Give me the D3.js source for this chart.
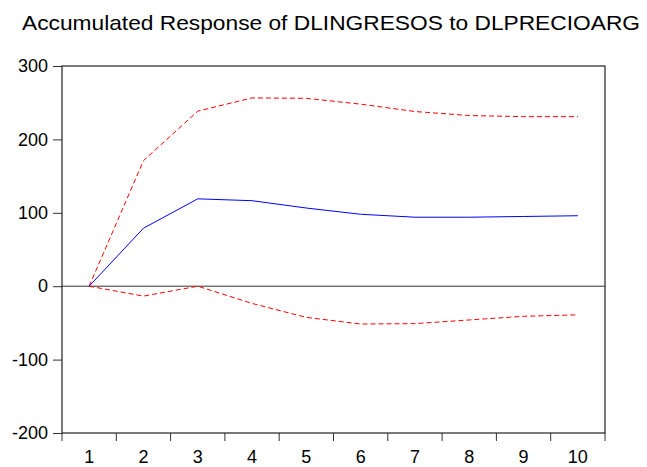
<!DOCTYPE html>
<html>
<head>
<meta charset="utf-8">
<script src="https://cdn.jsdelivr.net/npm/d3@7"></script>
<style>
  body { margin: 0; background: #fff; }
  svg { display: block; font-family: "Liberation Sans", Arial, sans-serif; }
</style>
</head>
<body>
<div id="chart"></div>
<script>
// data
const periods = ["1", "2", "3", "4", "5", "6", "7", "8", "9", "10"];
const response = [0, 79, 119, 116.5, 106.5, 98, 94, 94, 95, 96];
const upperBand = [0, 171, 238.5, 256.5, 256, 248, 238, 232.5, 231, 231];
const lowerBand = [0, -13.5, 0, -23.5, -42.5, -51.5, -51, -46, -41, -39];
const yTicks = [-200, -100, 0, 100, 200, 300];
const title = "Accumulated Response of DLINGRESOS to DLPRECIOARG";

const W = 647, H = 467;
const margin = {top: 66, right: 42, bottom: 34, left: 62},
      width = W - margin.left - margin.right,
      height = H - margin.top - margin.bottom;

const svg = d3.select("#chart")
  .append("svg")
    .attr("width", W)
    .attr("height", H);

// title is a bit wider than plain Arial, so stretch it to the same span
svg.append("text")
    .attr("x", 22)
    .attr("y", 30)
    .attr("font-size", 21)
    .attr("fill", "#000")
    .attr("textLength", 618)
    .attr("lengthAdjust", "spacingAndGlyphs")
    .text(title);

const g = svg.append("g")
    .attr("transform", `translate(${margin.left}, ${margin.top})`);

//scales
const x = d3.scaleBand()
    .domain(periods)
    .range([0, width]);

const y = d3.scaleLinear()
    .domain([-200, 300])
    .range([height, 0]);

const cx = d => x(d) + x.bandwidth() / 2;

// y axis (plain hyphen for negatives, like the original)
const yAxis = g.append("g")
    .call(d3.axisLeft(y).tickValues(yTicks).tickFormat(d => String(d))
      .tickSize(9).tickSizeOuter(0).tickPadding(5));
yAxis.select(".domain").remove();
yAxis.selectAll("line").attr("stroke", "#333");
yAxis.selectAll("text").attr("font-size", 18).attr("fill", "#000")
    .attr("font-family", "Liberation Sans, Arial, sans-serif");

// x axis: ticks on band edges, labels at band centres
const xAxis = g.append("g")
    .attr("transform", `translate(0, ${height})`);
xAxis.selectAll("line")
    .data(periods.concat(["end"]))
  .enter()
  .append("line")
    .attr("x1", (d, i) => i * x.step())
    .attr("x2", (d, i) => i * x.step())
    .attr("y1", 0)
    .attr("y2", 8)
    .attr("stroke", "#333");
xAxis.selectAll("text")
    .data(periods)
  .enter()
  .append("text")
    .attr("x", cx)
    .attr("y", 30)
    .attr("text-anchor", "middle")
    .attr("font-size", 18)
    .attr("fill", "#000")
    .text(d => d);

// zero line
g.append("line")
    .attr("x1", 0).attr("x2", width)
    .attr("y1", y(0)).attr("y2", y(0))
    .attr("stroke", "#333")
    .attr("stroke-width", 1);

// frame
g.append("rect")
    .attr("x", 0).attr("y", 0)
    .attr("width", width).attr("height", height)
    .attr("fill", "none")
    .attr("stroke", "#222")
    .attr("stroke-width", 1.2);

const line = d3.line()
    .x((d, i) => cx(periods[i]))
    .y(d => y(d));

g.append("path")
    .datum(upperBand)
    .attr("fill", "none")
    .attr("stroke", "#ff0000")
    .attr("stroke-width", 1)
    .attr("stroke-dasharray", "5,3")
    .attr("d", line);

g.append("path")
    .datum(lowerBand)
    .attr("fill", "none")
    .attr("stroke", "#ff0000")
    .attr("stroke-width", 1)
    .attr("stroke-dasharray", "5,3")
    .attr("d", line);

g.append("path")
    .datum(response)
    .attr("fill", "none")
    .attr("stroke", "#0000ff")
    .attr("stroke-width", 1)
    .attr("d", line);
</script>
</body>
</html>
